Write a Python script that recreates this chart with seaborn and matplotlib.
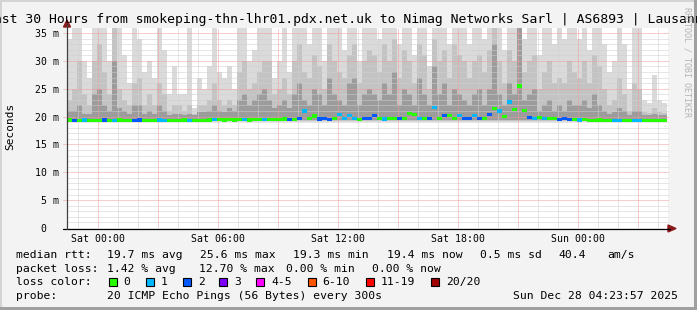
import numpy as np
import pandas as pd
import matplotlib
matplotlib.use("Agg")
import matplotlib.pyplot as plt
from matplotlib.path import Path
from matplotlib.patches import Polygon, Rectangle
from matplotlib.lines import Line2D
import seaborn as sns

W, H = 697, 310

# ---------------- data (15-minute columns) ----------------
smoke_max = [34, 36, 36, 30, 27, 36, 36, 36, 30, 36, 36, 31, 26, 36, 34, 28, 30, 27, 36, 32,
             24, 29, 24, 24, 36, 21.5, 27, 25, 29, 36, 28, 27, 29, 25, 36, 36, 30, 32, 36, 36,
             36, 27, 30, 36, 28, 36, 36, 36, 33, 36, 36, 30, 36, 36, 36, 32, 36, 36, 30, 36,
             36, 36, 34, 36, 36, 36, 33, 36, 36, 31, 36, 36, 29, 36, 36, 36, 33, 36, 36, 36,
             33, 36, 36, 34, 36, 36, 36, 32, 36, 36, 36, 34, 36, 36, 31, 36, 36, 33, 36, 34,
             36, 36, 34, 36, 32, 36, 36, 33, 28, 30, 36, 33, 25, 36, 36, 23, 22.5, 27.5, 23, 22.5]
smoke_mid = [23, 25, 30, 24, 22, 30, 33, 28, 24, 36, 25, 23, 22, 26, 27, 22, 24, 22, 26, 24,
             21, 22, 22, 21, 22, 20.5, 22, 22, 23, 26, 23, 22, 23, 22, 28, 30, 25, 26, 28, 30,
             30, 24, 25, 27, 24, 30, 33, 28, 27, 31, 29, 25, 33, 30, 28, 27, 31, 33, 26, 30,
             32, 31, 28, 33, 30, 34, 27, 32, 30, 26, 33, 31, 25, 34, 30, 32, 27, 33, 31, 30,
             27, 30, 31, 28, 32, 36, 30, 26, 32, 30, 36, 28, 30, 31, 25, 28, 30, 26, 27, 26,
             30, 28, 27, 30, 26, 31, 29, 25, 22, 23, 27, 24, 21, 26, 25, 20.8, 20.6, 21.5, 20.8, 20.6]
smoke_dark = [21, 21, 22, 20.5, 20.5, 24, 25, 22, 21, 30, 21.5, 21, 20.5, 22, 22, 20.5, 21, 20.5, 22, 21,
              20.3, 20.5, 20.5, 20.3, 20.5, 20.2, 20.8, 20.8, 21, 22, 21, 20.8, 21.5, 21, 23, 24, 22, 23, 24, 25,
              23, 21.5, 22, 23, 21.5, 24, 26, 23, 22, 25, 24, 22, 27, 24, 23, 22, 26, 27, 22, 24,
              25, 24, 23, 26, 24, 28, 22, 25, 24, 22, 27, 24, 22, 29, 24, 26, 22, 25, 24, 23,
              22, 24, 25, 22, 25, 33, 24, 22, 26, 24, 36, 23, 24, 25, 21, 22, 23, 21, 22, 21,
              23, 22, 22, 23, 21.5, 24, 22, 21, 20.5, 20.8, 21.5, 21, 20.3, 21, 21, 20.2, 20.2, 20.4, 20.2, 20.2]
median_rtt = [19.4, 19.35, 19.35, 19.4, 19.35, 19.3, 19.35, 19.4, 19.35, 19.35, 19.4, 19.35, 19.3, 19.35, 19.4, 19.35, 19.3, 19.35, 19.4, 19.35,
              19.35, 19.3, 19.35, 19.4, 19.3, 19.35, 19.3, 19.35, 19.4, 19.45, 19.5, 19.4, 19.45, 19.4, 19.45, 19.5, 19.4, 19.5, 19.45, 19.5,
              19.5, 19.45, 19.5, 19.55, 19.5, 19.5, 19.6, 21.0, 19.6, 20.1, 19.55, 19.6, 19.5, 19.6, 20.3, 19.6, 20.2, 19.6, 19.5, 19.6,
              19.6, 20.2, 19.6, 19.55, 19.6, 19.7, 19.6, 19.6, 20.5, 20.4, 19.6, 19.7, 19.6, 21.6, 19.7, 20.2, 20.2, 19.6, 20.2, 19.6,
              19.7, 20.2, 19.6, 19.7, 20.3, 21.5, 21.0, 20.0, 22.6, 21.3, 25.5, 21.1, 19.8, 19.7, 19.8, 19.6, 19.6, 19.7, 19.5, 19.6,
              19.5, 19.45, 19.4, 19.5, 19.35, 19.35, 19.4, 19.35, 19.3, 19.35, 19.3, 19.3, 19.35, 19.3, 19.3, 19.3, 19.3, 19.35, 19.3, 19.3]
loss_code = [0, 2, 0, 1, 0, 0, 0, 2, 0, 1, 0, 0, 0, 2, 2, 0, 0, 0, 1, 1,
             0, 0, 0, 0, 1, 0, 0, 0, 0, 1, 0, 0, 0, 0, 0, 1, 0, 0, 0, 1,
             0, 0, 0, 0, 2, 0, 2, 1, 0, 0, 2, 2, 2, 0, 1, 1, 1, 1, 0, 2,
             2, 2, 0, 1, 0, 0, 2, 0, 0, 0, 1, 0, 2, 1, 0, 2, 0, 0, 1, 2,
             2, 1, 2, 0, 2, 0, 1, 0, 1, 0, 0, 0, 2, 1, 0, 1, 0, 0, 2, 2,
             2, 0, 1, 0, 0, 0, 0, 0, 0, 1, 1, 0, 0, 1, 1, 0, 0, 0, 0, 0]

start_hour = -1.55          # hours relative to Sat 00:00
step_hours = 0.25

x_tick_hours = [0, 6, 12, 18, 24]
x_tick_labels = ["Sat 00:00", "Sat 06:00", "Sat 12:00", "Sat 18:00", "Sun 00:00"]
y_ticks = [0, 5, 10, 15, 20, 25, 30, 35]
y_tick_labels = ["0  ", "5 m", "10 m", "15 m", "20 m", "25 m", "30 m", "35 m"]

loss_labels = ["0", "1", "2", "3", "4-5", "6-10", "11-19", "20/20"]
loss_colors = ["#26ff00", "#00b8ff", "#0059ff", "#7e00ff", "#ff00ff", "#ff5500", "#ff0000", "#a10000"]

title = "Last 30 Hours from smokeping-thn-lhr01.pdx.net.uk to Nimag Networks Sarl | AS6893 | Lausanne"
stats_rtt = ["median rtt:", "19.7 ms avg", "25.6 ms max", "19.3 ms min", "19.4 ms now", "0.5 ms sd", "40.4", "am/s"]
stats_loss = ["packet loss:", "1.42 % avg", "12.70 % max", "0.00 % min", "0.00 % now"]
probe_text = ["probe:", "20 ICMP Echo Pings (56 Bytes) every 300s", "Sun Dec 28 04:23:57 2025"]

# ---------------- figure ----------------
sns.set_style("white")
plt.rcParams["font.family"] = ["DejaVu Sans Mono"]

fig = plt.figure(figsize=(W / 100, H / 100), dpi=100, facecolor="#f3f3f3")


def fx(px):
    return px / W


def fy(py):
    return 1 - py / H


ax = fig.add_axes([fx(67), fy(228), 601 / W, 200 / H])
ax.set_facecolor("white")

n = len(smoke_max)
df = pd.DataFrame({
    "x": start_hour + step_hours * (np.arange(n) + 0.5),
    "L": smoke_max, "M": smoke_mid, "D": smoke_dark,
    "median": median_rtt, "loss": loss_code,
})

for col, color, b in [("L", "#dadada", 19.1), ("M", "#c3c3c3", 19.2), ("D", "#9c9c9c", 19.3)]:
    d = df.assign(h=df[col] - b)
    sns.barplot(data=d, x="x", y="h", native_scale=True, width=1, color=color,
                saturation=1, bottom=b, linewidth=0, edgecolor="none",
                antialiased=False, errorbar=None, ax=ax, zorder=1)

# median band coloured by loss
rect = Path([(-1, -0.6), (1, -0.6), (1, 0.6), (-1, 0.6), (-1, -0.6)],
            [Path.MOVETO, Path.LINETO, Path.LINETO, Path.LINETO, Path.CLOSEPOLY])
pal = {i: c for i, c in enumerate(loss_colors)}
sns.scatterplot(data=df, x="x", y="median", hue="loss", palette=pal, marker=rect,
                s=(5.3 * 0.72) ** 2, linewidth=0, legend=False, ax=ax, zorder=5)

x0 = start_hour
x1 = start_hour + 601 / 20
ax.set_xlim(x0, x1)
ax.set_ylim(0, 200 * 35 / 195)

# grid
for v in range(1, 36):
    major = v % 5 == 0
    ax.hlines(v, x0 - (4 / 20 if major else 0), x1, colors="#f29a9a" if major else "#cfcfcf",
              linestyles=(0, (1, 1)), linewidth=0.72, zorder=3, clip_on=False)
for h in range(-1, 29):
    major = h % 3 == 0
    ax.vlines(h, 0, 35.9, colors="#f29a9a" if major else "#cfcfcf",
              linestyles=(0, (1, 1)), linewidth=0.72, zorder=3)

for s in ax.spines.values():
    s.set_visible(False)
ax.set_xlabel("")
ax.set_ylabel("")
ax.set_yticks(y_ticks)
ax.set_yticklabels(y_tick_labels)
ax.set_xticks(x_tick_hours)
ax.set_xticklabels(x_tick_labels)
ax.tick_params(axis="y", length=0, pad=5.8, labelsize=7.1, labelcolor="black")
ax.tick_params(axis="x", length=0, pad=4.0, labelsize=7.1, labelcolor="black")

# axis lines and arrows
fig.add_artist(Line2D([fx(63), fx(670)], [fy(228.5), fy(228.5)], color="black", lw=0.9))
fig.add_artist(Line2D([fx(67), fx(67)], [fy(228.5), fy(24)], color="#404040", lw=0.9))
fig.add_artist(Polygon([(fx(668), fy(225)), (fx(676), fy(228.5)), (fx(668), fy(232))],
                       closed=True, color="#8b1a1a", transform=fig.transFigure))
fig.add_artist(Polygon([(fx(63.5), fy(27)), (fx(67), fy(20)), (fx(70.5), fy(27))],
                       closed=True, color="#8b1a1a", transform=fig.transFigure))

# frame
fig.add_artist(Rectangle((0, 0), fx(2), 1, transform=fig.transFigure, color="#d4d4d4", lw=0))
fig.add_artist(Rectangle((0, fy(2)), 1, 2 / H, transform=fig.transFigure, color="#d4d4d4", lw=0))
fig.add_artist(Rectangle((fx(694), 0), 3 / W, 1, transform=fig.transFigure, color="#a0a0a0", lw=0))
fig.add_artist(Rectangle((0, 0), 1, 3 / H, transform=fig.transFigure, color="#a0a0a0", lw=0))

# texts
fig.text(fx(348.5), fy(23.5), title, ha="center", va="baseline", fontsize=9.45, color="black")
fig.text(fx(10), fy(126.5), "Seconds", rotation=90, ha="center", va="center", fontsize=8, color="black")
fig.text(fx(687.5), fy(62), "RRDTOOL / TOBI OETIKER", rotation=270, ha="center", va="center",
         fontsize=6, color="#b4b4b4")

fs = 8.2
rtt_x = [16, 107, 200, 293, 387, 480, 558, 607]
for t, xx in zip(stats_rtt, rtt_x):
    fig.text(fx(xx), fy(257.8), t, ha="left", va="baseline", fontsize=fs, color="black")
loss_x = [16, 107, 199, 286, 372]
for t, xx in zip(stats_loss, loss_x):
    fig.text(fx(xx), fy(271.5), t, ha="left", va="baseline", fontsize=fs, color="black")

fig.text(fx(16), fy(285.2), "loss color:", ha="left", va="baseline", fontsize=fs, color="black")
box_x = [109, 146, 183, 219, 256, 308, 366, 431]
lab_x = [123, 161, 198, 234, 271, 322, 381, 446]
for lab, col, bx, lx in zip(loss_labels, loss_colors, box_x, lab_x):
    fig.add_artist(Rectangle((fx(bx), fy(285.5)), 8 / W, 8 / H, transform=fig.transFigure,
                             facecolor=col, edgecolor="black", lw=0.8))
    fig.text(fx(lx), fy(285.2), lab, ha="left", va="baseline", fontsize=fs, color="black")

probe_x = [16, 107, 513]
for t, xx in zip(probe_text, probe_x):
    fig.text(fx(xx), fy(298.9), t, ha="left", va="baseline", fontsize=fs, color="black")

fig.savefig("out.png", dpi=100, facecolor=fig.get_facecolor())
